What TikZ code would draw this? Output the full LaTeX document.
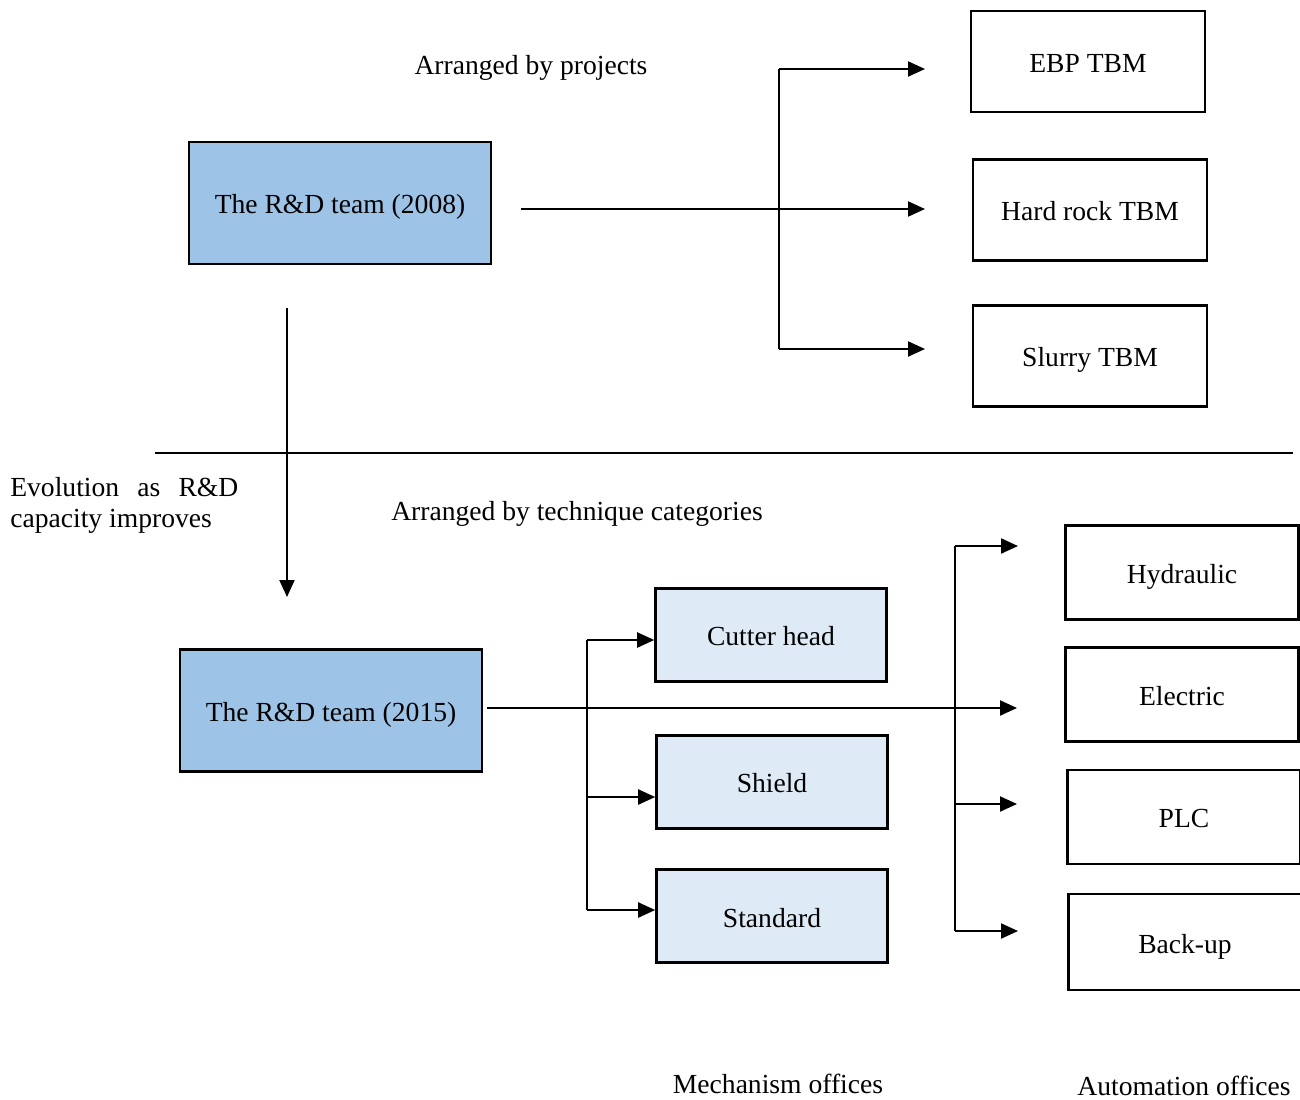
\documentclass[tikz,border=0pt]{standalone}
\usepackage{fontspec}
\setmainfont{Liberation Serif}
\usetikzlibrary{arrows.meta}
\definecolor{deepblue}{HTML}{9DC3E6}
\definecolor{paleblue}{HTML}{DEEBF7}
\tikzset{
  box/.style={draw, line width=1.5pt, text height=14pt, text depth=1.5pt},
  team/.style={box, fill=deepblue, minimum width=6.04cm, minimum height=2.44cm},
  office/.style={box, minimum width=4.68cm, minimum height=2.02cm},
  mech/.style={box, fill=paleblue, minimum width=4.62cm, minimum height=1.86cm},
  auto/.style={box, minimum width=4.66cm, minimum height=1.88cm},
  arr/.style={-{Triangle[length=0.34cm,width=0.3cm]}, line width=1.2pt},
  trunk/.style={line width=0.8pt},
}

\begin{document}
\begin{tikzpicture}[x=0.02cm, y=-0.02cm, font=\fontsize{15.7pt}{19pt}\selectfont]
    \useasboundingbox (0,0) rectangle (1300,1099);
    % 2008: arranged by projects
    \node[team] (team08) at (340,203) {The R\&D team (2008)};
    \node[office] (ebp) at (1088,61.5) {EBP TBM};
    \node[office] (hard) at (1090,210) {Hard rock TBM};
    \node[office] (slurry) at (1090,356) {Slurry TBM};
    \node[anchor=base] (projects) at (531,74) {Arranged by projects};
    \coordinate (p0) at (521,209);
    \coordinate (ptop) at (779,69);
    \coordinate (pbot) at (779,349);
    \coordinate (ebpin) at (925,69);
    \coordinate (hardin) at (925,209);
    \coordinate (slurryin) at (925,349);
    \draw[arr] (p0) -- (hardin);
    \draw[trunk] (ptop) -- (pbot);
    \draw[arr] (ptop) -- (ebpin);
    \draw[arr] (pbot) -- (slurryin);
    % evolution
    \draw[line width=0.6pt] (155,453) -- (1293,453);
    \coordinate (evtop) at (287,308);
    \coordinate (evbot) at (287,597);
    \draw[arr] (evtop) -- (evbot);
    \node[anchor=north west, inner sep=0, text width=4.56cm, align=justify,
      font=\fontsize{15.7pt}{17.5pt}\selectfont] (evol) at (10,477)
      {Evolution as R\&D\linebreak capacity improves};
    % 2015: arranged by technique categories
    \node[anchor=base] (technique) at (577,520) {Arranged by technique categories};
    \node[team] (team15) at (331,710.5) {The R\&D team (2015)};
    \node[mech] (cutter) at (771,635) {Cutter head};
    \node[mech] (shield) at (772,782) {Shield};
    \node[mech] (standard) at (772,916) {Standard};
    \node[auto] (hyd) at (1182,572.5) {Hydraulic};
    \node[auto] (elec) at (1182,694.5) {Electric};
    \node[auto] (plc) at (1184,817) {PLC};
    \node[auto, minimum height=1.92cm] (backup) at (1185,942) {Back-up};
    \node[anchor=base] (mechoff) at (778,1093) {Mechanism offices};
    \node[anchor=base] (autooff) at (1184,1095) {Automation offices};
    \coordinate (t0) at (487,708);
    \coordinate (elecin) at (1017,708);
    \draw[arr] (t0) -- (elecin);
    \coordinate (mtop) at (587,640);
    \coordinate (mmid) at (587,797);
    \coordinate (mbot) at (587,910);
    \draw[trunk] (mtop) -- (mbot);
    \draw[arr] (mtop) -- (cutter.west |- mtop);
    \draw[arr] (mmid) -- (shield.west |- mmid);
    \draw[arr] (mbot) -- (standard.west |- mbot);
    \coordinate (atop) at (955,546);
    \coordinate (amid) at (955,804);
    \coordinate (abot) at (955,931);
    \draw[trunk] (atop) -- (abot);
    \draw[arr] (atop) -- (1018,546);
    \draw[arr] (amid) -- (1017,804);
    \draw[arr] (abot) -- (1018,931);
\end{tikzpicture}
\end{document}
